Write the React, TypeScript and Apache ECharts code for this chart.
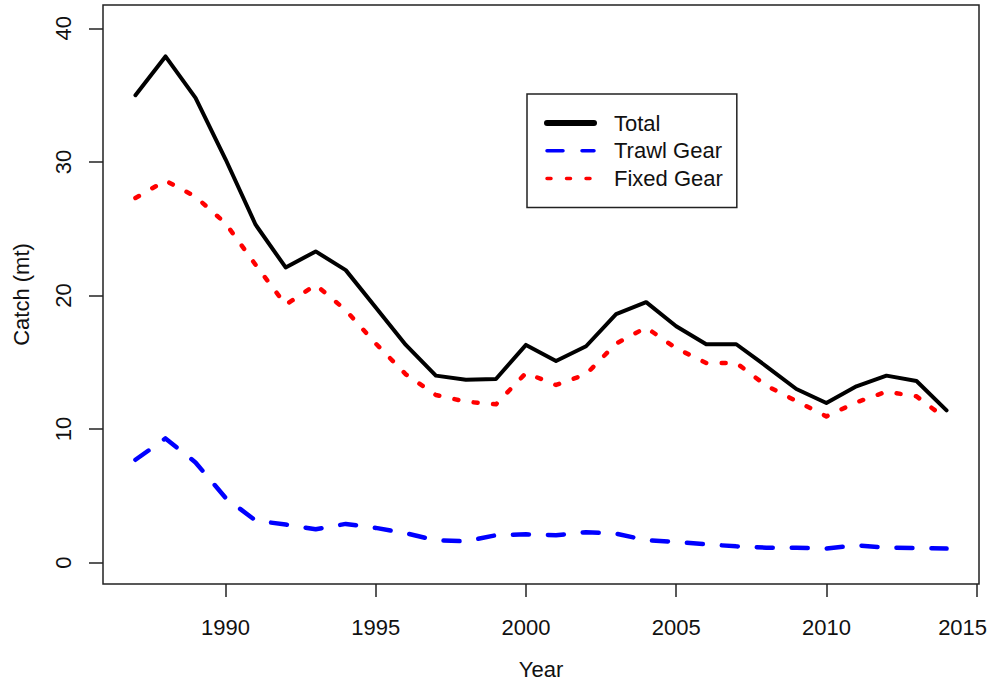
import React, { useEffect, useRef } from "react";
import * as echarts from "echarts";

const years = [1987, 1988, 1989, 1990, 1991, 1992, 1993, 1994, 1995, 1996, 1997, 1998, 1999, 2000,
  2001, 2002, 2003, 2004, 2005, 2006, 2007, 2008, 2009, 2010, 2011, 2012, 2013, 2014];

const total = [35.0, 37.9, 34.8, 30.2, 25.3, 22.1, 23.3, 21.9, 19.1, 16.3, 14.0, 13.7, 13.75, 16.3,
  15.1, 16.2, 18.6, 19.5, 17.7, 16.35, 16.35, 14.7, 13.0, 11.95, 13.2, 14.0, 13.6, 11.4];

const trawl = [7.7, 9.3, 7.5, 4.85, 3.15, 2.85, 2.5, 2.9, 2.6, 2.2, 1.67, 1.6, 2.05, 2.12,
  2.05, 2.28, 2.17, 1.68, 1.55, 1.37, 1.22, 1.12, 1.12, 1.05, 1.3, 1.12, 1.1, 1.05];

const fixed = [27.3, 28.6, 27.4, 25.4, 22.3, 19.3, 20.8, 18.9, 16.4, 14.1, 12.55, 12.05, 11.85, 14.2,
  13.3, 14.1, 16.4, 17.6, 16.05, 14.95, 14.95, 13.25, 12.1, 10.95, 12.0, 12.8, 12.45, 10.75];

const xTicks = [1990, 1995, 2000, 2005, 2010, 2015];
const yTicks = [0, 10, 20, 30, 40];
const seriesNames = ["Total", "Trawl Gear", "Fixed Gear"];

const FONT = "'Liberation Sans', Arial, sans-serif";

export default function App() {
  const ref = useRef<HTMLDivElement>(null);
  useEffect(() => {
    if (!ref.current) return;
    const chart = echarts.init(ref.current, null, { renderer: "svg" });
    const pair = (vals: number[]) => years.map((y, i) => [y, vals[i]]);
    chart.setOption({
      animation: false,
      backgroundColor: "#fff",
      textStyle: { fontFamily: FONT },
      grid: {
        left: 103,
        right: 13,
        top: 5,
        bottom: 100,
        show: true,
        borderColor: "#222",
        borderWidth: 1.5,
        backgroundColor: "transparent",
      },
      legend: {
        orient: "vertical",
        left: 527,
        top: 94,
        padding: [18, 14, 18, 17],
        borderColor: "#222",
        borderWidth: 1.5,
        borderRadius: 0,
        itemWidth: 47,
        itemHeight: 14,
        itemGap: 5.7,
        itemStyle: { opacity: 0 },
        textStyle: {
          fontFamily: FONT,
          fontSize: 22,
          color: "#111",
          padding: [0, 0, 0, 15],
        },
        data: [
          { name: seriesNames[0], lineStyle: { width: 6 }, itemStyle: { opacity: 0 } },
          { name: seriesNames[1], lineStyle: { width: 3.5 }, itemStyle: { opacity: 0 } },
          { name: seriesNames[2], lineStyle: { width: 3.5 }, itemStyle: { opacity: 0 } },
        ],
      },
      xAxis: {
        type: "value",
        min: 1985.92,
        max: 2015.08,
        name: "Year",
        nameLocation: "middle",
        nameGap: 74,
        nameTextStyle: { fontFamily: FONT, fontSize: 22, color: "#111" },
        splitLine: { show: false },
        axisLine: { show: false, onZero: false },
        axisTick: {
          show: true,
          inside: false,
          length: 13,
          customValues: xTicks,
          lineStyle: { color: "#222", width: 1.5 },
        },
        axisLabel: {
          customValues: xTicks,
          margin: 32,
          fontFamily: FONT,
          fontSize: 22,
          color: "#111",
          formatter: (v: number) => (v === 2015 ? "{s|2015}" : String(v)),
          rich: {
            s: { fontFamily: FONT, fontSize: 22, color: "#111", padding: [0, 28, 0, 0] },
          },
        },
      },
      yAxis: {
        type: "value",
        min: -1.6,
        max: 41.75,
        name: "Catch (mt)",
        nameLocation: "middle",
        nameGap: 71,
        nameTextStyle: { fontFamily: FONT, fontSize: 22, color: "#111" },
        splitLine: { show: false },
        axisLine: { show: false, onZero: false },
        axisTick: {
          show: true,
          inside: false,
          length: 14,
          customValues: yTicks,
          lineStyle: { color: "#222", width: 1.5 },
        },
        axisLabel: {
          customValues: yTicks,
          rotate: 90,
          margin: 29,
          fontFamily: FONT,
          fontSize: 22,
          color: "#111",
        },
      },
      series: [
        {
          name: seriesNames[0],
          type: "line",
          data: pair(total),
          symbol: "none",
          showSymbol: false,
          lineStyle: { color: "#000", width: 4, cap: "round", join: "round" },
          itemStyle: { color: "#000" },
        },
        {
          name: seriesNames[1],
          type: "line",
          data: pair(trawl),
          symbol: "none",
          showSymbol: false,
          lineStyle: { color: "#0000ff", width: 4.5, type: [16, 19], cap: "round", join: "round" },
          itemStyle: { color: "#0000ff" },
        },
        {
          name: seriesNames[2],
          type: "line",
          data: pair(fixed),
          symbol: "none",
          showSymbol: false,
          lineStyle: { color: "#ff0000", width: 4.5, type: [4, 15.5], cap: "round", join: "round" },
          itemStyle: { color: "#ff0000" },
        },
      ],
    });
    return () => chart.dispose();
  }, []);
  return (
    <div
      ref={ref}
      style={{ position: "fixed", left: 0, top: 0, width: 992, height: 685, background: "#fff" }}
    />
  );
}
